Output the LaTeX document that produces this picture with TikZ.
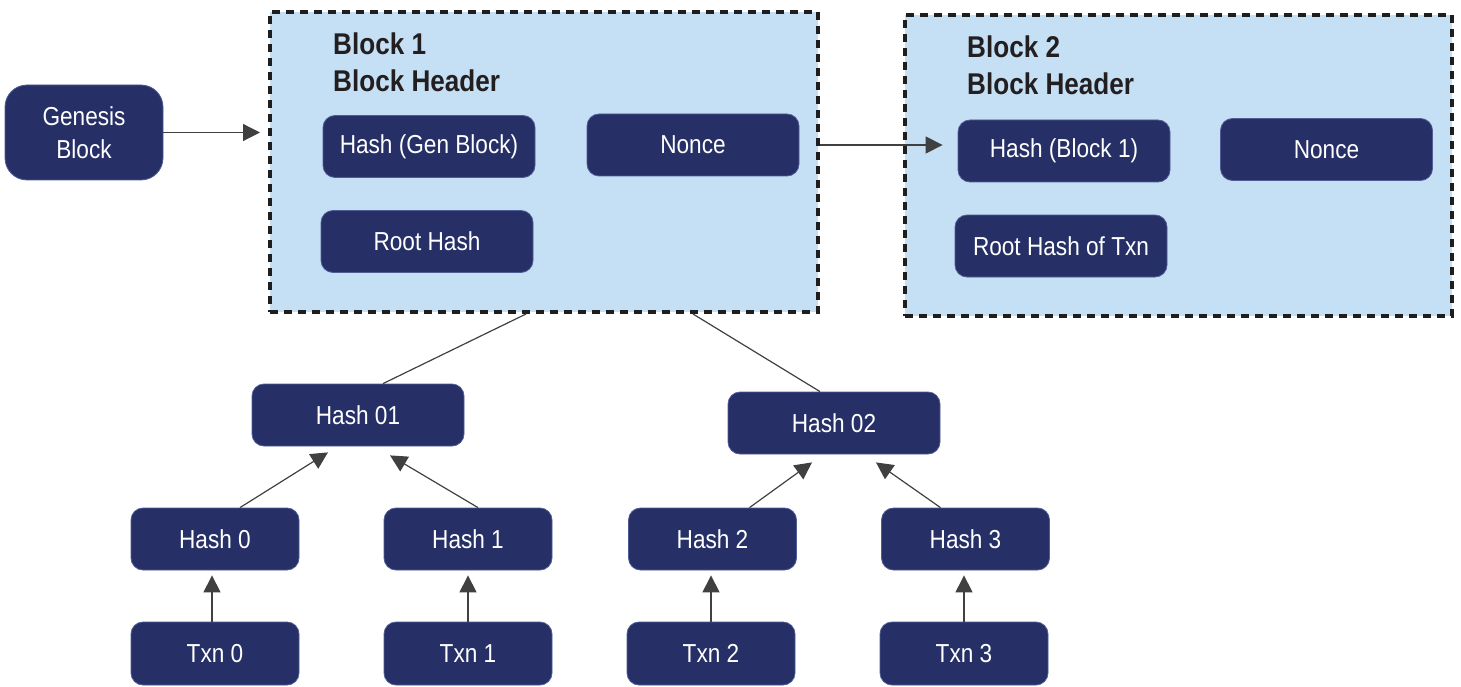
\documentclass[tikz,border=0pt]{standalone}
\usepackage{fontspec}
\setmainfont[FakeStretch=0.87]{Liberation Sans}
\usetikzlibrary{arrows.meta,calc}
\definecolor{navy}{RGB}{38,48,102}
\definecolor{navyedge}{RGB}{80,92,150}
\definecolor{lightblue}{RGB}{197,224,244}
\definecolor{linegray}{RGB}{64,64,64}
\definecolor{dashblack}{RGB}{30,30,30}
\definecolor{titlegray}{RGB}{35,31,32}
\begin{document}
\begin{tikzpicture}[x=1pt,y=-1pt,
  box/.style={fill=navy, draw=navyedge, line width=0.8pt, rounded corners=12pt, text=white,
    font=\fontsize{26}{33}\selectfont, inner sep=0pt, minimum width=212pt, minimum height=62pt, align=center},
  small/.style={box, minimum width=168pt},
  blockbox/.style={fill=lightblue, draw=dashblack, line width=4pt, dash pattern=on 8pt off 6pt, inner sep=0pt},
  conn/.style={draw=linegray, line width=1.2pt},
  arr/.style={conn, -{Triangle[length=17pt,width=17pt]}},
  title/.style={font=\bfseries\fontsize{30}{37}\selectfont, text=titlegray, align=left, inner sep=0pt, anchor=north west}]
\useasboundingbox (0,0) rectangle (1461,687);

% block containers
\node[blockbox, minimum width=548pt, minimum height=300pt] (blk1) at (544,162) {};
\node[blockbox, minimum width=547pt, minimum height=301pt] (blk2) at (1178.5,165.5) {};

\node[title] (t1) at (333,33) {Block 1\\Block Header};
\node[title] (t2) at (967,36) {Block 2\\Block Header};

% genesis
\node[box, minimum width=158pt, minimum height=95pt, rounded corners=22pt] (gen) at (84,132.5) {Genesis\\Block};

% block 1 contents
\node[box] (hg) at (429,146.5) {Hash (Gen Block)};
\node[box] (n1) at (693,145) {Nonce};
\node[box] (rh1) at (427,241.5) {Root Hash};

% block 2 contents
\node[box] (hb1) at (1064,151) {Hash (Block 1)};
\node[box] (n2) at (1326.5,149.5) {Nonce};
\node[box] (rh2) at (1061,246) {Root Hash of Txn};

% merkle tree
\node[box] (h01) at (358,415) {Hash 01};
\node[box] (h02) at (834,423) {Hash 02};
\node[small] (h0) at (215,539) {Hash 0};
\node[small] (h1) at (468,539) {Hash 1};
\node[small] (h2) at (712.5,539) {Hash 2};
\node[small] (h3) at (965.5,539) {Hash 3};
\node[small, minimum height=63pt] (x0) at (215,653.5) {Txn 0};
\node[small, minimum height=63pt] (x1) at (468,653.5) {Txn 1};
\node[small, minimum height=63pt] (x2) at (711,653.5) {Txn 2};
\node[small, minimum height=63pt] (x3) at (964,653.5) {Txn 3};

% connectors
\draw[arr, shorten >=8pt] (gen.east) -- (gen.east -| blk1.west);
\draw[arr, shorten >=15pt] (n1.east -| blk1.east) -- (n1.east -| hb1.west);

\draw[conn] ($(blk1.south west)+(258,0)$) -- ($(h01.north)+(25,0)$);
\draw[conn] ($(blk1.south west)+(425,0)$) -- ($(h02.north)+(-14,0)$);

\draw[arr] ($(h0.north)+(25,0)$) -- ($(h01.south)+(-30,6)$);
\draw[arr] ($(h1.north)+(10,0)$) -- ($(h01.south)+(32,9)$);
\draw[arr] ($(h2.north)+(37,0)$) -- ($(h02.south)+(-22,8)$);
\draw[arr] ($(h3.north)+(-25,0)$) -- ($(h02.south)+(42,8)$);

\draw[arr] ($(x0.north)+(-3,0)$) -- ($(x0.north |- h0.south)+(-3,5)$);
\draw[arr] (x1.north) -- ($(x1.north |- h1.south)+(0,5)$);
\draw[arr] (x2.north) -- ($(x2.north |- h2.south)+(0,5)$);
\draw[arr] (x3.north) -- ($(x3.north |- h3.south)+(0,5)$);
\end{tikzpicture}
\end{document}
